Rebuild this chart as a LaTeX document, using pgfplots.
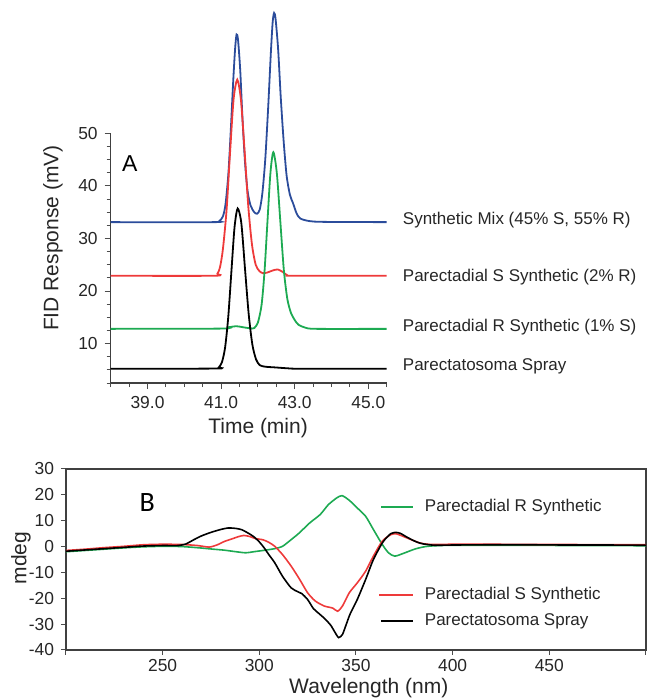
\documentclass[border=0pt]{standalone}
\usepackage{fontspec}
\setmainfont{Liberation Sans}
\newfontfamily\carlito{Carlito}
\usepackage{pgfplots}
\pgfplotsset{compat=1.18}
\definecolor{mixblue}{HTML}{2B4C9B}
\definecolor{sred}{HTML}{EE3A3A}
\definecolor{rgreen}{HTML}{1DAA52}

\begin{document}
\begin{tikzpicture}
\useasboundingbox (0,0) rectangle (323.5pt,349pt);
% ---- A: GC traces
\begin{axis}[
    at={(55.35pt,157.5pt)}, anchor=south west,
    scale only axis, width=138pt, height=124.85pt,
    xmin=38, xmax=45.5, ymin=2.5, ymax=50,
    axis lines*=left, clip=false,
    axis line style={black!75, line width=0.6pt, -},
    xtick={39,41,43,45}, minor xtick={38,38.5,...,45.5},
    ytick={10,20,30,40,50}, minor ytick={2.5,5,...,47.5},
    xticklabel style={/pgf/number format/.cd, fixed, fixed zerofill, precision=1},
    /pgf/number format/assume math mode=true,
    tick align=outside, major tick length=3pt, minor tick length=2pt,
    tick style={black!70, line width=0.5pt},
    tick label style={font=\fontsize{8.7}{10}\selectfont, text=black!85},
    label style={font=\fontsize{10.5}{12}\selectfont, text=black!85},
    xlabel={Time (min)}, ylabel={FID Response (mV)},
    xlabel style={at={(axis description cs:0.534,-0.18)}, anchor=center},
    ylabel style={at={(axis description cs:-0.209,0.58)}, anchor=center},
    every axis plot/.append style={line width=0.9pt, smooth, tension=0.45},
]
\addplot[mixblue] coordinates {
 (38,33.1) (40.8,33.1) (40.95,33.3) (41.05,34.2) (41.12,36.5) (41.2,42.5)
 (41.27,51.5) (41.33,60) (41.38,66) (41.42,68.8) (41.46,67.8) (41.52,62)
 (41.58,53) (41.65,44.5) (41.72,39) (41.8,36.3) (41.9,35) (41.98,34.7)
 (42.05,35.5) (42.12,38.5) (42.2,45) (42.28,55) (42.35,65) (42.4,71)
 (42.44,72.9) (42.48,71.8) (42.55,66) (42.62,57) (42.7,48.5) (42.78,42)
 (42.87,38.3) (42.95,36.8) (43.05,34.8) (43.15,33.8) (43.4,33.3) (43.8,33.15) (45.5,33.1)};
\addplot[sred] coordinates {
 (38,22.9) (40.8,22.9) (40.9,23.3) (40.97,24.5) (41.05,28.0) (41.15,35.5)
 (41.245,46.5) (41.34,56.5) (41.44,60.2) (41.54,56.3) (41.64,46.5) (41.74,36)
 (41.84,28.8) (41.94,25.0) (42.04,23.8) (42.13,23.4) (42.25,23.5) (42.4,23.9)
 (42.54,24.1) (42.68,23.6) (42.8,23.0) (43.0,22.9) (45.5,22.9)};
\addplot[rgreen] coordinates {
 (38,12.8) (41.0,12.85) (41.2,13.1) (41.42,13.3) (41.6,13.1) (41.8,12.9)
 (41.9,12.95) (42.0,14.0) (42.1,17.35) (42.18,23.7) (42.26,33.2) (42.34,42.4)
 (42.42,46.4) (42.515,42.4) (42.61,33.2) (42.705,24) (42.8,18.5) (42.9,15.8)
 (43.0,14.5) (43.1,13.6) (43.3,13.0) (43.6,12.8) (45.5,12.8)};
\addplot[black] coordinates {
 (38,5.2) (40.85,5.25) (40.94,5.5) (41.025,6.5) (41.11,9.3) (41.195,15.1)
 (41.28,23.7) (41.365,32.1) (41.45,35.7) (41.55,32.9) (41.65,24.2) (41.75,15.6)
 (41.85,9.8) (41.95,7.0) (42.05,5.9) (42.2,5.6) (42.5,5.45) (42.8,5.3)
 (43.2,5.2) (45.5,5.2)};
\node[font=\fontsize{11.5}{12}\selectfont] at (axis cs:38.52,44.3) {A};
\begin{scope}[every node/.style={anchor=west, font=\fontsize{8.5}{10}\selectfont, text=black!85}]
\node at (axis cs:45.75,33.5) {Synthetic Mix (45\% S, 55\% R)};
\node at (axis cs:45.75,22.6) {Parectadial S Synthetic (2\% R)};
\node at (axis cs:45.75,13.1) {Parectadial R Synthetic (1\% S)};
\node at (axis cs:45.75,5.65) {Parectatosoma Spray};
\end{scope}
\end{axis}
% ---- B: CD spectra
\begin{axis}[
    at={(33pt,24pt)}, anchor=south west,
    scale only axis, width=290pt, height=90.5pt,
    xmin=200, xmax=500, ymin=-40, ymax=30,
    axis line style={black!75, line width=0.9pt},
    xtick={200,250,...,500}, xticklabels={,250,300,350,400,450,},
    ytick={-40,-30,...,30}, yticklabels={-40,-30,-20,-10,0,10,20,30},
    tick pos=left, tick align=outside, major tick length=2.5pt,
    tick style={black!70, line width=0.5pt},
    tick label style={font=\fontsize{8.7}{10}\selectfont, text=black!85},
    xticklabel style={yshift=1.5pt},
    label style={font=\fontsize{10.5}{12}\selectfont, text=black!85},
    xlabel={Wavelength (nm)}, ylabel={mdeg},
    xlabel style={at={(axis description cs:0.522,-0.21)}, anchor=center},
    ylabel style={at={(axis description cs:-0.0776,0.508)}, anchor=center},
    clip=false,
    every axis plot/.append style={line width=0.8pt, smooth, tension=0.4},
]
\addplot[rgreen] coordinates {
 (200,-2.0) (210,-1.5) (220,-1.0) (230,-0.5) (240,-0.1) (250,0.1) (260,0.0)
 (269,-0.5) (276,-1.0) (282,-1.4) (288,-2.0) (293,-2.4) (298,-1.9) (303,-1.4)
 (308,-0.8) (312,0.1) (316.5,2.7) (320.7,5.3) (326,9.1) (331.5,12.4) (335.7,16.2)
 (340,18.8) (342.8,19.7) (346.5,17.9) (350.7,14.9) (355,11.7) (359,6.6)
 (363.6,0.8) (366.8,-2.4) (370,-3.7) (374.3,-2.7) (380.7,-0.9) (387,0.1)
 (398,0.5) (420,0.5) (440,0.5) (460,0.4) (480,0.4) (500,0.3)};
\addplot[sred] coordinates {
 (200,-1.5) (210,-1.0) (220,-0.4) (230,0.1) (240,0.7) (250,0.9) (260,0.8)
 (268,0.4) (274,-0.2) (278,0.6) (282,2.0) (286,3.0) (289,3.8) (292,4.3)
 (295,3.9) (298,3.1) (302,2.6) (305,1.6) (308,0.1) (312,-3.1) (316.5,-7.6)
 (320.7,-12.5) (325,-17.9) (329,-21.1) (333.6,-23.0) (338,-23.8) (340.5,-25.0)
 (343,-23.0) (346.5,-17.9) (350.7,-14.0) (355,-9.5) (359,-3.7) (363.6,2.1)
 (368,4.6) (371,4.9) (376.5,3.3) (383,1.4) (389,0.8) (400,0.9) (420,0.9)
 (440,0.8) (460,0.8) (480,0.7) (500,0.7)};
\addplot[black] coordinates {
 (200,-1.8) (210,-1.3) (220,-0.8) (230,-0.3) (240,0.2) (250,0.4) (258,0.4)
 (262,1.0) (266,2.6) (270,4.1) (275,5.5) (280,6.6) (284,7.2) (288,7.0)
 (291,6.5) (294,5.3) (297,3.9) (300,1.8) (302.5,-0.5) (305,-3.2) (308,-6.3)
 (312,-11.5) (316.5,-16.0) (320,-17.5) (322,-18.2) (325,-20.5) (328,-24.0)
 (331,-26.0) (334,-28.0) (337,-30.5) (339,-33.0) (341,-35.2) (343,-34.0)
 (345,-30.0) (347,-26.0) (350.7,-20.4) (355,-12.7) (359,-5.0) (363.6,1.4)
 (366,3.6) (368,5.0) (370.5,5.5) (373,5.1) (376,3.8) (379,2.6) (382,1.6)
 (385,1.0) (391,0.5) (400,0.6) (420,0.7) (440,0.7) (460,0.6) (480,0.6) (500,0.5)};
\node[font=\carlito\fontsize{14}{15}\selectfont] at (axis cs:242,17.2) {B};
% direct labels
\draw[rgreen, line width=0.9pt] (axis cs:363,15.3) -- (axis cs:379.5,15.3);
\draw[sred, line width=0.9pt] (axis cs:362,-18.7) -- (axis cs:379.5,-18.7);
\draw[black, line width=0.9pt] (axis cs:363,-28.8) -- (axis cs:379.5,-28.8);
\begin{scope}[every node/.style={anchor=west, font=\fontsize{8.5}{10}\selectfont, text=black!85}]
\node at (axis cs:382,15.3) {Parectadial R Synthetic};
\node at (axis cs:382,-18.7) {Parectadial S Synthetic};
\node at (axis cs:382,-28.8) {Parectatosoma Spray};
\end{scope}
\end{axis}
\end{tikzpicture}
\end{document}
